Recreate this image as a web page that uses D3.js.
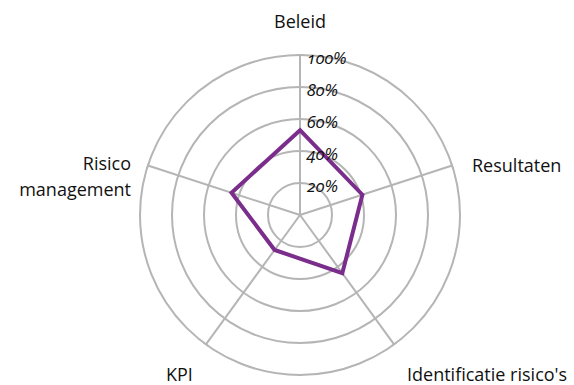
<!DOCTYPE html>
<html>
<head>
<meta charset="utf-8">
<script src="https://cdn.jsdelivr.net/npm/d3@7"></script>
<style>
  html, body { margin: 0; padding: 0; background: #fff; }
  svg { display: block; }
  .axis-label { font-family: "Open Sans", sans-serif; font-size: 18px; fill: #111; }
  .tick-label { font-family: "Open Sans", sans-serif; font-style: italic; font-size: 17px; fill: #111;
                font-feature-settings: "onum" 1; font-variant-numeric: oldstyle-nums; }
</style>
</head>
<body>
<svg id="chart" width="574" height="385"></svg>
<script>
// Radar chart: score per theme
const categories = ["Beleid", "Resultaten", "Identificatie risico's", "KPI", "Risico\nmanagement"];
const values = [53, 41, 45, 27, 45];
const tickValues = [20, 40, 60, 80, 100];
const tickLabels = ["20%", "40%", "60%", "80%", "100%"];

const svg = d3.select("#chart");
const cx = 300, cy = 215, R = 160;

const r = d3.scaleLinear().domain([0, 100]).range([0, R]);
const angle = d3.scalePoint().domain(d3.range(categories.length))
  .range([0, 2 * Math.PI * (categories.length - 1) / categories.length]);

const g = svg.append("g").attr("transform", `translate(${cx},${cy})`);
const gridColor = "#b5b5b5";

// concentric rings
g.selectAll("circle.ring").data(tickValues).join("circle")
  .attr("class", "ring")
  .attr("r", d => r(d))
  .attr("fill", "none")
  .attr("stroke", gridColor)
  .attr("stroke-width", 2);

// spokes with a small end tick
const spokes = g.selectAll("g.spoke").data(categories).join("g").attr("class", "spoke")
  .attr("transform", (d, i) => `rotate(${angle(i) * 180 / Math.PI})`);
spokes.append("line")
  .attr("x1", 0).attr("y1", 0).attr("x2", 0).attr("y2", -r(100))
  .attr("stroke", gridColor).attr("stroke-width", 2);
spokes.append("line")
  .attr("x1", -3).attr("x2", 3).attr("y1", -r(100)).attr("y2", -r(100))
  .attr("stroke", gridColor).attr("stroke-width", 1.5);

// data polygon
const line = d3.lineRadial()
  .angle((d, i) => angle(i))
  .radius(d => r(d))
  .curve(d3.curveLinearClosed);
g.append("path")
  .datum(values)
  .attr("d", line)
  .attr("fill", "none")
  .attr("stroke", "#7b2d8c")
  .attr("stroke-width", 4)
  .attr("stroke-linejoin", "miter");

// tick labels along the top spoke
g.selectAll("text.tick-label").data(tickValues).join("text")
  .attr("class", "tick-label")
  .attr("x", 7)
  .attr("y", d => -r(d) + 9)
  .text((d, i) => tickLabels[i]);

// category labels
const labelPos = [
  { x: 300, y: 28, anchor: "middle" },
  { x: 472, y: 172, anchor: "start" },
  { x: 407, y: 381, anchor: "start" },
  { x: 166, y: 381, anchor: "start" },
  { x: 131, y: 170, anchor: "end" }
];
categories.forEach((c, i) => {
  const p = labelPos[i];
  const t = svg.append("text").attr("class", "axis-label")
    .attr("x", p.x).attr("y", p.y).attr("text-anchor", p.anchor);
  c.split("\n").forEach((s, k) => {
    t.append("tspan").attr("x", p.x).attr("dy", k === 0 ? 0 : 26).text(s);
  });
});
</script>
</body>
</html>
